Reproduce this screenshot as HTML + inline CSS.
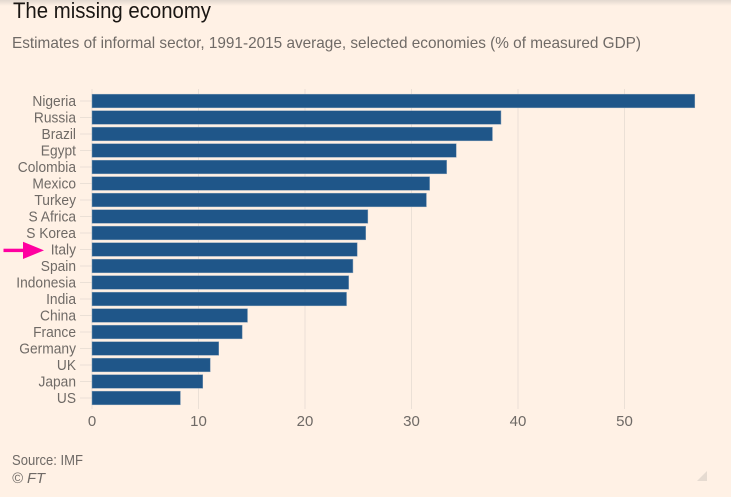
<!DOCTYPE html>
<html>
<head>
<meta charset="utf-8">
<style>
html,body{margin:0;padding:0;background:#fff1e5;}
body{width:731px;height:497px;overflow:hidden;position:relative;}
svg{display:block;font-family:"Liberation Sans",sans-serif;}
</style>
</head>
<body>
<svg id="chart" width="731" height="497" viewBox="0 0 731 497" xmlns="http://www.w3.org/2000/svg">
  <defs>
    <linearGradient id="topShade" x1="0" y1="0" x2="0" y2="1">
      <stop offset="0" stop-color="#e2d8cf"/>
      <stop offset="1" stop-color="#fff1e5"/>
    </linearGradient>
  </defs>
  <rect width="731" height="497" fill="#fff1e5"/>
  <rect width="731" height="6" fill="url(#topShade)"/>
  <text x="13" y="18" font-size="22" fill="#1a1613" textLength="198" lengthAdjust="spacingAndGlyphs">The missing economy</text>
  <text x="12" y="48" font-size="16" fill="#6f6a66" textLength="629" lengthAdjust="spacingAndGlyphs">Estimates of informal sector, 1991-2015 average, selected economies (% of measured GDP)</text>
  <g id="grid"></g>
  <g id="xticks"></g>
  <g id="rows"></g>
  <g>
    <rect x="3.5" y="248.7" width="21" height="3.4" fill="#ff00a0"/>
    <polygon points="23,241.7 44,250.4 23,259" fill="#ff00a0"/>
  </g>
  <text x="12" y="465" font-size="15" fill="#6f6a66" textLength="71" lengthAdjust="spacingAndGlyphs">Source: IMF</text>
  <text x="12" y="483" font-size="15" font-style="italic" fill="#6f6a66" textLength="33" lengthAdjust="spacingAndGlyphs">© FT</text>
  <polygon points="707,471 707,481 697,481" fill="#e6dbd1"/>
</svg>
<script>
const categories = ["Nigeria","Russia","Brazil","Egypt","Colombia","Mexico","Turkey","S Africa","S Korea","Italy","Spain","Indonesia","India","China","France","Germany","UK","Japan","US"];
const values = [56.6,38.4,37.6,34.2,33.3,31.7,31.4,25.9,25.7,24.9,24.5,24.1,23.9,14.6,14.1,11.9,11.1,10.4,8.3];
const xTickLabels = [0,10,20,30,40,50];

const NS = "http://www.w3.org/2000/svg";
const xScale = v => 92 + v * 10.65;
const rowTop = i => 94.2 + i * 16.5;
const barHeight = 13.6;

function make(tag, attrs, parent, text) {
  const el = document.createElementNS(NS, tag);
  for (const k in attrs) el.setAttribute(k, attrs[k]);
  if (text !== undefined) el.textContent = text;
  parent.appendChild(el);
  return el;
}

const grid = document.getElementById("grid");
const xticks = document.getElementById("xticks");
const rows = document.getElementById("rows");

xTickLabels.forEach(t => {
  const line = make("line", {x1: xScale(t), x2: xScale(t), y1: 89, y2: 409, stroke: "#ebe0d6", "stroke-width": 1}, grid);
  
  
  const label = make("text", {x: xScale(t), y: 426, "font-size": 15, fill: "#6f6a66", "text-anchor": "middle"}, xticks, String(t));
  
  
});

categories.forEach((c, i) => {
  const cy = rowTop(i) + barHeight / 2;
  const tick = make("line", {x1: 80, x2: 92, y1: cy, y2: cy, stroke: "#ebe0d6", "stroke-width": 1}, rows);
  
  
  const label = make("text", {x: 76, y: cy + 5, "font-size": 14.5, fill: "#6f6a66", "text-anchor": "end", lengthAdjust: "spacingAndGlyphs"}, rows, c);
  label.setAttribute('textLength', (label.getComputedTextLength() * 0.95).toFixed(1));
  
  
  const bar = make("rect", {x: xScale(0), y: rowTop(i), width: xScale(values[i]) - xScale(0), height: barHeight, fill: "#1f5689", stroke: "#7f9bb5", "stroke-width": 0.5}, rows);
  
  
});
</script>
</body>
</html>
